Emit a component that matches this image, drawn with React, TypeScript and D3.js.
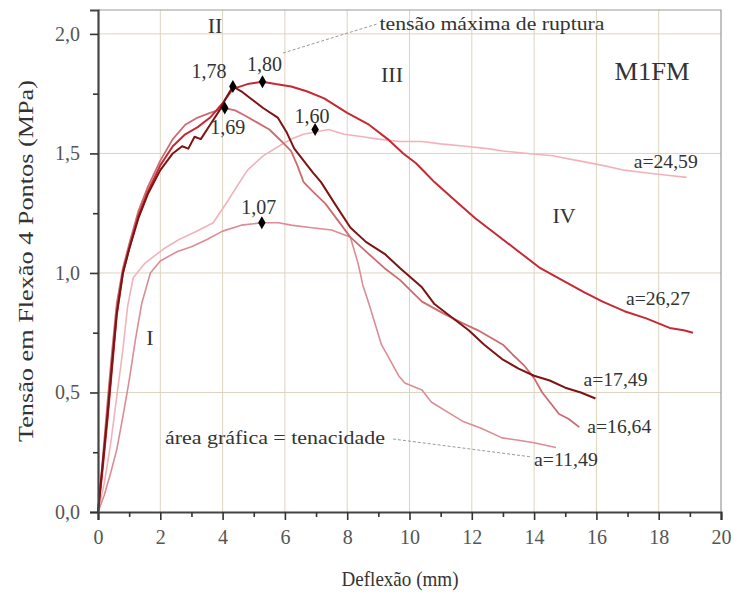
import React, { useRef, useEffect } from 'react';
import * as d3 from 'd3';

const W = 734;
const H = 594;
const margin = { top: 10, right: 13, bottom: 82, left: 98 };
const FONT = '"Liberation Serif", "Times New Roman", serif';

// a=26,27
const xA = [0, 0.15, 0.3, 0.45, 0.6, 0.8, 1.0, 1.3, 1.6, 2.0, 2.4, 2.8, 3.2, 3.6, 4.0, 4.33, 4.8, 5.28, 5.7, 6.2, 6.7, 7.26, 8.0, 8.7, 9.3, 9.8, 10.2, 10.5, 10.8, 11.4, 12.1, 12.8, 13.5, 14.2, 14.9, 15.6, 16.2, 16.9, 17.6, 18.35, 18.8, 19.1];
const yA = [0, 0.18, 0.38, 0.6, 0.82, 1.0, 1.1, 1.24, 1.34, 1.45, 1.53, 1.58, 1.61, 1.65, 1.71, 1.77, 1.79, 1.8, 1.79, 1.78, 1.76, 1.73, 1.67, 1.62, 1.56, 1.5, 1.46, 1.42, 1.38, 1.31, 1.23, 1.16, 1.09, 1.02, 0.97, 0.92, 0.88, 0.84, 0.81, 0.77, 0.76, 0.75];

// a=17,49
const xB = [0, 0.15, 0.3, 0.45, 0.6, 0.8, 1.0, 1.3, 1.6, 2.0, 2.4, 2.7, 2.9, 3.1, 3.3, 3.6, 3.9, 4.1, 4.33, 4.6, 4.9, 5.3, 5.77, 6.05, 6.3, 6.6, 6.9, 7.16, 7.6, 8.1, 8.6, 9.2, 9.7, 10.4, 10.8, 11.3, 11.9, 12.4, 12.97, 13.5, 14.0, 14.5, 15.0, 15.5, 15.97];
const yB = [0, 0.2, 0.4, 0.62, 0.83, 1.0, 1.1, 1.23, 1.33, 1.43, 1.5, 1.53, 1.52, 1.57, 1.56, 1.62, 1.68, 1.73, 1.78, 1.76, 1.73, 1.69, 1.65, 1.59, 1.52, 1.47, 1.42, 1.38, 1.29, 1.19, 1.13, 1.08, 1.02, 0.94, 0.87, 0.82, 0.76, 0.7, 0.64, 0.6, 0.57, 0.55, 0.52, 0.5, 0.475];

// a=16,64
const xC = [0, 0.15, 0.3, 0.45, 0.6, 0.8, 1.0, 1.3, 1.6, 2.0, 2.4, 2.8, 3.2, 3.6, 4.07, 4.4, 4.7, 5.1, 5.5, 5.9, 6.2, 6.4, 6.6, 6.9, 7.3, 7.7, 8.1, 8.6, 9.2, 9.7, 10.4, 11.1, 11.7, 12.2, 12.6, 13.0, 13.3, 13.7, 14.0, 14.26, 14.5, 14.8, 15.1, 15.45];
const yC = [0, 0.22, 0.45, 0.67, 0.87, 1.02, 1.12, 1.26, 1.36, 1.47, 1.56, 1.62, 1.65, 1.67, 1.69, 1.68, 1.66, 1.63, 1.6, 1.55, 1.51, 1.45, 1.38, 1.34, 1.29, 1.22, 1.15, 1.09, 1.02, 0.97, 0.88, 0.83, 0.79, 0.76, 0.73, 0.7, 0.66, 0.61, 0.56, 0.5, 0.46, 0.41, 0.39, 0.355];

// a=24,59
const xD = [0, 0.2, 0.4, 0.6, 0.8, 0.95, 1.13, 1.5, 2.1, 2.6, 3.1, 3.7, 3.9, 4.16, 4.5, 4.8, 5.3, 5.8, 6.2, 6.6, 6.97, 7.4, 7.9, 8.5, 9.0, 9.7, 10.4, 11.0, 11.8, 12.5, 13.0, 13.8, 14.6, 15.4, 16.2, 16.9, 17.5, 18.2, 18.9];
const yD = [0, 0.12, 0.28, 0.48, 0.68, 0.86, 0.98, 1.04, 1.1, 1.14, 1.17, 1.21, 1.25, 1.3, 1.37, 1.43, 1.49, 1.53, 1.56, 1.58, 1.59, 1.6, 1.58, 1.57, 1.56, 1.55, 1.55, 1.54, 1.53, 1.52, 1.51, 1.5, 1.49, 1.47, 1.45, 1.43, 1.42, 1.41, 1.4];

// a=11,49
const xE = [0, 0.2, 0.4, 0.6, 0.8, 1.0, 1.2, 1.4, 1.68, 2.0, 2.55, 3.0, 3.5, 4.0, 4.6, 5.26, 5.8, 6.2, 6.8, 7.5, 7.9, 8.1, 8.35, 8.5, 8.7, 9.1, 9.4, 9.65, 9.85, 10.4, 10.7, 11.2, 11.7, 12.3, 12.97, 13.5, 14.0, 14.7];
const yE = [0, 0.07, 0.16, 0.26, 0.4, 0.55, 0.72, 0.87, 1.0, 1.05, 1.09, 1.11, 1.14, 1.175, 1.2, 1.21, 1.21, 1.2, 1.19, 1.18, 1.16, 1.15, 1.04, 0.95, 0.87, 0.7, 0.63, 0.57, 0.54, 0.51, 0.46, 0.42, 0.38, 0.35, 0.31, 0.3, 0.29, 0.27];

const seriesLabels = ['a=24,59', 'a=11,49', 'a=16,64', 'a=26,27', 'a=17,49'];

// maximum stress points
const peakX = [5.28, 4.33, 4.07, 6.97, 5.26];
const peakY = [1.8, 1.78, 1.69, 1.6, 1.21];
const peakLabels = ['1,80', '1,78', '1,69', '1,60', '1,07'];

const xTicks = [0, 2, 4, 6, 8, 10, 12, 14, 16, 18, 20];
const yTicks = [0, 0.5, 1.0, 1.5, 2.0];

function App() {
  const ref = useRef<SVGSVGElement>(null);

  useEffect(() => {
    const svg = d3.select(ref.current);
    svg.selectAll('*').remove();

    const x = d3.scaleLinear().domain([0, 20]).range([margin.left, W - margin.right]);
    const y = d3.scaleLinear().domain([0, 2.1]).range([H - margin.bottom, margin.top]);

    svg.append('rect').attr('width', W).attr('height', H).attr('fill', '#fff');

    // grid
    const grid = svg.append('g').attr('stroke', '#ddd4c0').attr('stroke-width', 1);
    grid.selectAll('line.v').data(xTicks.slice(1, -1)).enter().append('line')
      .attr('x1', d => x(d)).attr('x2', d => x(d))
      .attr('y1', y(0)).attr('y2', y(2.1));
    grid.selectAll('line.h').data(yTicks.slice(1)).enter().append('line')
      .attr('x1', x(0)).attr('x2', x(20))
      .attr('y1', d => y(d)).attr('y2', d => y(d));

    // frame (top, right)
    svg.append('path')
      .attr('d', `M${x(0)},${y(2.1)}H${x(20)}V${y(0)}`)
      .attr('fill', 'none').attr('stroke', '#999').attr('stroke-width', 1.2);

    // curves
    const line = d3.line<[number, number]>().x(d => x(d[0])).y(d => y(d[1]));
    const series = [
      { xs: xD, ys: yD, color: '#f1b3bb', w: 1.6 },
      { xs: xE, ys: yE, color: '#dc8c94', w: 1.6 },
      { xs: xC, ys: yC, color: '#cc6b70', w: 1.8 },
      { xs: xA, ys: yA, color: '#c42a33', w: 2.0 },
      { xs: xB, ys: yB, color: '#7d1414', w: 2.0 },
    ];
    series.forEach(s => {
      svg.append('path')
        .datum(s.xs.map((v, i) => [v, s.ys[i]] as [number, number]))
        .attr('d', line)
        .attr('fill', 'none')
        .attr('stroke', s.color)
        .attr('stroke-width', s.w)
        .attr('stroke-linejoin', 'round');
    });

    // axes
    const fmtY = (d: d3.NumberValue) => d3.format('.1f')(+d).replace('.', ',');
    const gx = svg.append('g').attr('transform', `translate(0,${y(0)})`)
      .call(d3.axisBottom(x).tickValues(xTicks).tickSize(8).tickPadding(10).tickFormat(d3.format('d')));
    const gxm = svg.append('g').attr('transform', `translate(0,${y(0)})`)
      .call(d3.axisBottom(x).tickValues(d3.range(1, 20, 2)).tickSize(5).tickFormat(() => ''));
    const gy = svg.append('g').attr('transform', `translate(${x(0)},0)`)
      .call(d3.axisLeft(y).tickValues(yTicks).tickSize(8).tickPadding(10).tickFormat(fmtY));
    const gym = svg.append('g').attr('transform', `translate(${x(0)},0)`)
      .call(d3.axisLeft(y).tickValues([0.25, 0.75, 1.25, 1.75]).tickSize(5).tickFormat(() => ''));

    [gxm, gym].forEach(g => g.select('.domain').remove());
    [gx, gy].forEach(g => g.select('.domain').attr('stroke', '#444').attr('stroke-width', 2.2));
    [gx, gxm, gy, gym].forEach(g => {
      g.selectAll('.tick line').attr('stroke', '#333').attr('stroke-width', 1.6);
      g.selectAll('.tick text').attr('font-family', FONT).attr('font-size', 20).attr('fill', '#555');
    });

    // peak markers
    const diamond = d3.symbol().type(d3.symbolDiamond).size(48);
    svg.selectAll('path.peak').data(peakX).enter().append('path')
      .attr('class', 'peak')
      .attr('d', diamond)
      .attr('transform', (d, i) => `translate(${x(d)},${y(peakY[i])})`)
      .attr('fill', '#000');

    const peakOff: [number, number][] = [[2, -11], [-24, -8], [3, 26], [-3, -7], [-3, -9]];
    svg.selectAll('text.peak').data(peakLabels).enter().append('text')
      .attr('x', (d, i) => x(peakX[i]) + peakOff[i][0])
      .attr('y', (d, i) => y(peakY[i]) + peakOff[i][1])
      .attr('text-anchor', 'middle')
      .attr('font-family', FONT).attr('font-size', 20).attr('fill', '#333')
      .text(d => d);

    // end-of-curve labels
    const endOff: [number, number][] = [[-21, -9], [10, 19], [40, 6], [-35, -28], [20, -12]];
    series.forEach((s, i) => {
      const n = s.xs.length - 1;
      svg.append('text')
        .attr('x', x(s.xs[n]) + endOff[i][0])
        .attr('y', y(s.ys[n]) + endOff[i][1])
        .attr('text-anchor', 'middle')
        .attr('font-family', FONT).attr('font-size', 18).attr('fill', '#333')
        .attr('textLength', 64).attr('lengthAdjust', 'spacingAndGlyphs')
        .text(seriesLabels[i]);
    });

    // leader lines
    const dash = svg.append('g').attr('stroke', '#9a9a9a').attr('stroke-width', 1).attr('stroke-dasharray', '3,2');
    dash.append('line').attr('x1', 283).attr('y1', 53).attr('x2', 377).attr('y2', 24);
    dash.append('line').attr('x1', 393).attr('y1', 439).attr('x2', 532).attr('y2', 457);

    // annotations
    const note = (tx: number, ty: number, t: string, size: number, len?: number) => {
      const el = svg.append('text').attr('x', tx).attr('y', ty)
        .attr('font-family', FONT).attr('font-size', size).attr('fill', '#333')
        .attr('text-anchor', 'middle').text(t);
      if (len) el.attr('textLength', len).attr('lengthAdjust', 'spacingAndGlyphs');
    };
    note(492, 30, 'tensão máxima de ruptura', 19, 225);
    note(275, 444, 'área gráfica = tenacidade', 19, 220);
    note(652, 80, 'M1FM', 26, 75);
    note(215, 33, 'II', 22);
    note(392, 82, 'III', 22);
    note(564, 223, 'IV', 22);
    note(150, 345, 'I', 22);

    // axis titles
    svg.append('text')
      .attr('x', 400).attr('y', 586)
      .attr('text-anchor', 'middle')
      .attr('font-family', FONT).attr('font-size', 22).attr('fill', '#333')
      .attr('textLength', 117).attr('lengthAdjust', 'spacingAndGlyphs')
      .text('Deflexão (mm)');
    svg.append('text')
      .attr('transform', `translate(33,${(y(0) + y(2.1)) / 2}) rotate(-90)`)
      .attr('text-anchor', 'middle')
      .attr('font-family', FONT).attr('font-size', 21).attr('fill', '#333')
      .attr('textLength', 362).attr('lengthAdjust', 'spacingAndGlyphs')
      .text('Tensão em Flexão 4 Pontos (MPa)');
  }, []);

  return (
    <svg ref={ref} width={W} height={H} style={{ position: 'absolute', left: 0, top: 0 }} />
  );
}

export default App;
